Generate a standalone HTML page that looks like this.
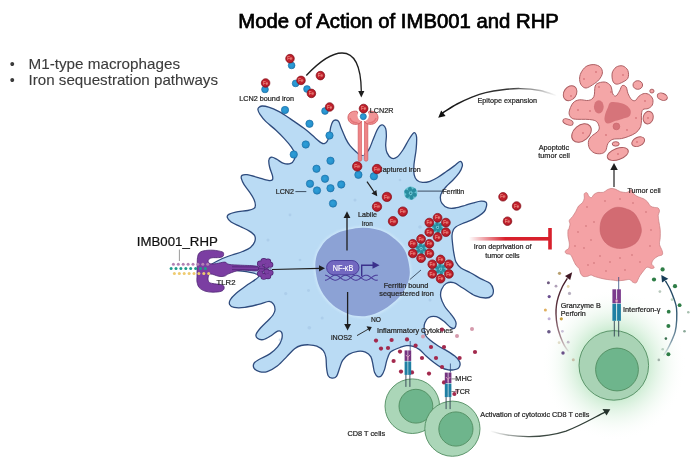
<!DOCTYPE html>
<html><head><meta charset="utf-8"><style>
html,body{margin:0;padding:0;background:#fff;}
svg{display:block;font-family:"Liberation Sans", sans-serif;will-change:transform;}
</style></head><body>
<svg width="700" height="460" viewBox="0 0 700 460">
<rect width="700" height="460" fill="#fff"/>
<defs>
<radialGradient id="feg" cx="0.45" cy="0.45" r="0.6"><stop offset="0" stop-color="#cf2833"/><stop offset="0.7" stop-color="#ba1d29"/><stop offset="1" stop-color="#96131d"/></radialGradient>
<radialGradient id="lcg" cx="0.45" cy="0.45" r="0.6"><stop offset="0" stop-color="#2f9fd8"/><stop offset="0.75" stop-color="#2590cc"/><stop offset="1" stop-color="#1b74ad"/></radialGradient>
<radialGradient id="glow" cx="0.5" cy="0.5" r="0.5"><stop offset="0" stop-color="#8fd39e" stop-opacity="0.9"/><stop offset="0.45" stop-color="#b4e3bd" stop-opacity="0.7"/><stop offset="1" stop-color="#ffffff" stop-opacity="0"/></radialGradient>
<linearGradient id="redline" x1="0" x2="1" y1="0" y2="0"><stop offset="0" stop-color="#d8202c" stop-opacity="0"/><stop offset="0.45" stop-color="#d8202c" stop-opacity="1"/><stop offset="1" stop-color="#d8202c"/></linearGradient>
<linearGradient id="actg" gradientUnits="userSpaceOnUse" x1="490" y1="0" x2="610" y2="0"><stop offset="0" stop-color="#2d3a33" stop-opacity="0"/><stop offset="0.35" stop-color="#2d3a33" stop-opacity="0.9"/><stop offset="1" stop-color="#24332b"/></linearGradient>
<linearGradient id="epig" gradientUnits="userSpaceOnUse" x1="557" y1="0" x2="440" y2="0"><stop offset="0" stop-color="#222" stop-opacity="0"/><stop offset="0.4" stop-color="#222" stop-opacity="0.9"/><stop offset="1" stop-color="#111"/></linearGradient>
<linearGradient id="granz" gradientUnits="userSpaceOnUse" x1="0" y1="353" x2="0" y2="273"><stop offset="0" stop-color="#6a2a3a" stop-opacity="0.05"/><stop offset="0.2" stop-color="#5a2434" stop-opacity="0.55"/><stop offset="0.5" stop-color="#4d1f2c" stop-opacity="0.9"/><stop offset="1" stop-color="#3f1622"/></linearGradient>
<linearGradient id="ifng" gradientUnits="userSpaceOnUse" x1="0" y1="357" x2="0" y2="275"><stop offset="0" stop-color="#2a5a70" stop-opacity="0.05"/><stop offset="0.2" stop-color="#24506a" stop-opacity="0.6"/><stop offset="0.5" stop-color="#1f4a66" stop-opacity="0.9"/><stop offset="1" stop-color="#173c58"/></linearGradient>
</defs>
<ellipse cx="613.8" cy="365" rx="72" ry="76" fill="url(#glow)"/>
<text x="238.3" y="28" font-size="20.3" fill="#000" text-anchor="start" textLength="320.6" lengthAdjust="spacingAndGlyphs" stroke="#000" stroke-width="0.6" style="filter:drop-shadow(0.5px 0.8px 0.6px rgba(0,0,0,0.35))">Mode of Action of IMB001 and RHP</text>
<text x="9.7" y="68.7" font-size="14.3" fill="#3b3b3b" text-anchor="start" >•</text>
<text x="9.7" y="84.8" font-size="14.3" fill="#3b3b3b" text-anchor="start" >•</text>
<text x="28.5" y="68.7" font-size="14.3" fill="#3b3b3b" text-anchor="start" textLength="151.5" lengthAdjust="spacingAndGlyphs" stroke="#3b3b3b" stroke-width="0.1">M1-type macrophages</text>
<text x="28.5" y="84.8" font-size="14.3" fill="#3b3b3b" text-anchor="start" textLength="189.5" lengthAdjust="spacingAndGlyphs" stroke="#3b3b3b" stroke-width="0.1">Iron sequestration pathways</text>
<path d="M258.6 107.6 C259.3 106.9 260.3 106.1 262.0 106.0 C263.7 105.9 265.8 106.2 268.6 107.1 C271.4 108.0 275.0 109.5 278.6 111.4 C282.2 113.3 285.7 115.7 290.0 118.6 C294.3 121.5 300.2 125.5 304.3 128.6 C308.4 131.7 311.5 134.7 314.3 137.1 C317.1 139.5 319.7 141.8 321.4 142.9 C323.1 144.0 323.4 143.8 324.3 143.6 C325.2 143.3 326.3 142.7 327.1 141.4 C327.9 140.1 328.7 138.1 329.3 135.7 C329.9 133.3 330.1 129.5 330.7 127.1 C331.3 124.7 332.1 122.6 332.9 121.4 C333.7 120.2 334.8 120.0 335.7 120.0 C336.6 120.0 337.7 120.0 338.6 121.4 C339.6 122.8 340.2 125.7 341.4 128.6 C342.6 131.5 344.3 135.8 345.7 138.6 C347.1 141.4 348.3 143.6 350.0 145.7 C351.7 147.8 353.8 149.8 355.7 151.4 C357.6 153.0 359.2 155.6 361.4 155.4 C363.5 155.2 366.7 152.6 368.6 150.0 C370.5 147.4 371.5 143.3 372.9 140.0 C374.3 136.7 375.9 132.4 377.1 130.0 C378.3 127.6 379.0 126.5 380.0 125.7 C381.0 124.9 381.9 124.5 382.9 125.0 C383.8 125.5 385.1 126.8 385.7 128.6 C386.3 130.4 386.4 132.8 386.4 135.7 C386.4 138.5 385.6 142.8 385.7 145.7 C385.8 148.6 386.2 150.8 387.1 152.9 C388.1 155.0 389.7 157.5 391.4 158.2 C393.1 158.9 395.2 158.5 397.1 157.1 C399.0 155.7 401.0 152.8 402.9 150.0 C404.8 147.2 406.9 142.7 408.6 140.0 C410.3 137.3 411.8 134.8 412.9 133.6 C414.0 132.4 414.4 132.3 415.0 132.9 C415.6 133.5 416.4 134.5 416.6 137.1 C416.8 139.7 416.5 145.1 416.2 148.7 C415.9 152.3 415.2 155.6 414.8 158.5 C414.4 161.4 414.0 163.4 413.9 166.1 C413.8 168.8 413.7 172.5 414.2 174.8 C414.7 177.2 415.6 178.9 417.0 180.2 C418.4 181.5 420.2 182.2 422.4 182.4 C424.6 182.6 427.5 182.1 430.0 181.3 C432.5 180.5 434.9 179.1 437.6 177.5 C440.3 175.9 443.6 173.4 446.3 171.5 C449.0 169.6 451.7 167.7 453.9 166.1 C456.1 164.5 458.0 162.4 459.3 161.7 C460.6 161.0 461.0 161.4 461.5 162.1 C462.0 162.8 462.7 164.3 462.3 166.1 C461.9 167.8 460.9 170.2 459.3 172.6 C457.7 174.9 455.0 177.9 452.8 180.2 C450.6 182.5 448.1 184.5 446.3 186.5 C444.5 188.5 443.0 190.2 442.0 192.0 C441.0 193.8 440.3 195.5 440.3 197.4 C440.3 199.3 440.8 201.7 442.0 203.4 C443.2 205.1 445.2 206.9 447.4 207.7 C449.6 208.5 452.1 208.4 455.0 208.0 C457.9 207.6 461.7 206.4 464.8 205.5 C467.9 204.6 470.8 203.5 473.5 202.8 C476.2 202.1 479.0 201.3 481.1 201.2 C483.2 201.1 485.1 201.5 486.0 202.3 C486.9 203.1 486.8 204.6 486.5 206.1 C486.2 207.6 485.6 209.9 484.3 211.5 C483.0 213.1 481.1 214.5 478.9 215.9 C476.7 217.3 474.0 218.9 471.3 220.2 C468.6 221.5 465.1 222.4 462.6 223.5 C460.1 224.6 457.6 225.7 456.1 226.7 C454.6 227.7 454.2 228.1 453.5 229.6 C452.8 231.1 452.1 233.2 452.0 235.7 C451.9 238.2 452.4 241.8 452.7 244.8 C453.0 247.9 453.4 251.1 454.0 254.0 C454.6 256.9 454.8 259.7 456.0 262.0 C457.2 264.3 458.6 266.2 461.0 268.0 C463.4 269.8 467.0 271.0 470.4 272.8 C473.8 274.6 477.8 277.1 481.1 278.9 C484.4 280.7 488.2 281.7 490.2 283.5 C492.2 285.3 493.0 287.6 493.3 289.6 C493.6 291.6 493.1 294.3 491.8 295.7 C490.5 297.1 488.5 298.0 485.7 298.0 C482.9 298.0 478.8 297.4 475.0 295.7 C471.2 294.0 466.4 290.2 462.8 288.0 C459.2 285.8 456.5 283.4 453.7 282.7 C450.9 281.9 448.1 282.4 446.1 283.5 C444.1 284.6 442.4 287.3 441.5 289.6 C440.6 291.9 440.3 294.4 440.8 297.2 C441.3 300.0 443.0 303.5 444.6 306.3 C446.2 309.1 449.0 311.6 450.7 313.9 C452.4 316.2 454.1 318.3 455.0 320.0 C455.9 321.7 456.2 322.6 456.1 324.0 C456.0 325.4 455.4 327.6 454.5 328.2 C453.6 328.8 452.3 328.5 450.5 327.4 C448.7 326.2 446.3 323.1 443.9 321.3 C441.5 319.5 438.8 317.3 436.3 316.7 C433.8 316.1 430.6 316.5 428.7 317.5 C426.8 318.5 425.7 320.9 424.9 322.8 C424.1 324.7 424.0 326.8 424.1 328.9 C424.2 331.0 424.7 333.6 425.7 335.5 C426.7 337.4 428.0 338.3 430.0 340.0 C432.0 341.7 435.1 343.9 437.9 345.7 C440.7 347.5 444.2 349.2 447.0 350.9 C449.8 352.6 452.7 354.4 454.8 356.1 C456.9 357.8 458.5 359.8 459.4 361.3 C460.3 362.8 460.2 364.0 460.0 365.2 C459.8 366.4 459.2 367.7 458.1 368.5 C457.0 369.3 455.1 369.6 453.5 369.8 C451.9 370.0 450.2 370.1 448.3 369.8 C446.4 369.5 444.2 369.1 441.8 367.9 C439.4 366.7 436.5 364.6 433.9 362.6 C431.3 360.6 428.5 358.3 426.1 356.1 C423.7 353.9 421.8 351.2 419.6 349.6 C417.4 348.0 415.3 347.0 413.1 346.3 C410.9 345.6 408.7 345.5 406.5 345.7 C404.3 345.9 402.0 346.8 400.0 347.5 C398.0 348.2 396.1 348.9 394.4 349.8 C392.7 350.7 391.1 351.0 389.8 352.8 C388.5 354.6 387.7 357.6 386.8 360.4 C385.9 363.2 385.4 367.1 384.5 369.6 C383.6 372.2 382.5 374.5 381.4 375.7 C380.2 376.9 378.7 377.1 377.6 376.6 C376.5 376.1 375.4 374.5 374.6 372.6 C373.8 370.7 373.6 367.7 373.0 365.0 C372.4 362.3 372.1 358.8 370.8 356.6 C369.5 354.5 367.6 353.0 365.4 352.1 C363.2 351.2 360.6 350.9 357.8 351.3 C355.0 351.7 351.2 352.9 348.7 354.4 C346.2 355.9 344.1 358.1 342.6 360.4 C341.1 362.7 340.6 365.4 339.6 368.1 C338.6 370.8 337.8 374.7 336.5 376.4 C335.2 378.1 333.4 378.3 332.0 378.2 C330.6 378.1 329.1 377.4 328.2 375.7 C327.3 374.0 327.0 371.2 326.6 368.1 C326.2 365.1 326.4 360.3 325.9 357.4 C325.3 354.5 324.8 352.6 323.3 350.7 C321.8 348.8 319.2 347.1 316.8 346.1 C314.4 345.1 311.6 344.9 309.0 344.8 C306.4 344.7 303.5 344.9 301.1 345.5 C298.7 346.1 297.0 346.8 294.6 348.7 C292.2 350.6 289.6 353.8 286.8 356.6 C284.0 359.4 280.9 363.2 277.6 365.7 C274.3 368.2 270.2 370.6 267.2 371.6 C264.2 372.6 261.6 372.2 259.4 371.6 C257.2 371.1 255.0 369.7 254.1 368.3 C253.2 366.9 253.2 364.6 254.1 363.1 C255.0 361.6 256.8 360.7 259.4 359.2 C262.0 357.7 266.8 356.0 269.8 353.9 C272.8 351.8 275.6 349.2 277.6 346.8 C279.6 344.4 280.9 342.0 281.6 339.6 C282.3 337.2 282.3 333.8 281.6 332.4 C280.9 331.0 279.4 330.6 277.6 331.1 C275.9 331.7 273.5 334.3 271.1 335.7 C268.7 337.1 265.6 339.2 263.3 339.6 C261.0 340.0 258.6 339.2 257.4 338.3 C256.2 337.4 255.6 336.1 256.1 334.4 C256.7 332.6 258.6 330.2 260.7 327.8 C262.8 325.4 266.4 322.1 268.5 320.0 C270.6 317.9 271.9 316.7 273.0 315.0 C274.1 313.3 274.9 311.8 275.0 310.0 C275.1 308.2 274.7 305.8 273.7 304.4 C272.7 302.9 271.6 301.3 269.1 301.3 C266.6 301.3 262.6 303.4 258.5 304.4 C254.4 305.4 248.9 306.9 244.8 307.4 C240.7 307.9 236.6 307.9 234.1 307.4 C231.6 306.9 230.2 305.7 229.6 304.4 C229.0 303.1 229.3 301.6 230.3 299.8 C231.3 298.0 232.8 296.2 235.7 293.7 C238.6 291.2 243.9 287.6 247.8 284.6 C251.7 281.7 258.8 278.1 259.0 276.0 C259.2 273.9 252.8 273.1 249.0 272.2 C245.2 271.3 241.8 271.3 236.0 270.4 C230.2 269.5 218.1 268.0 214.0 267.0 C209.9 266.0 210.4 265.8 211.5 264.5 C212.6 263.2 217.0 261.1 220.4 259.5 C223.8 257.9 228.3 256.3 232.0 255.0 C235.7 253.7 239.4 252.8 242.5 251.5 C245.6 250.2 248.5 249.1 250.5 247.5 C252.5 245.9 254.0 243.8 254.7 241.8 C255.4 239.8 255.6 237.5 254.7 235.7 C253.8 233.9 251.8 232.6 249.4 231.1 C247.0 229.6 243.2 228.0 240.2 226.5 C237.1 225.0 233.2 223.5 231.1 222.0 C228.9 220.5 227.7 218.7 227.3 217.4 C226.9 216.1 227.4 215.3 228.8 214.4 C230.2 213.5 232.5 212.8 235.7 212.1 C238.9 211.4 244.8 211.1 247.8 210.5 C250.8 209.9 252.6 209.4 253.9 208.5 C255.2 207.6 255.4 206.7 255.4 205.2 C255.4 203.7 254.9 201.6 254.0 199.5 C253.1 197.4 251.5 194.9 249.8 192.4 C248.2 189.9 245.5 186.9 244.1 184.6 C242.7 182.2 241.7 179.8 241.3 178.3 C241.0 176.8 241.1 176.0 242.0 175.4 C242.9 174.8 244.3 174.3 247.0 174.7 C249.7 175.1 254.8 176.6 258.3 177.6 C261.8 178.6 265.9 180.1 268.2 180.4 C270.5 180.8 271.7 180.5 272.4 179.7 C273.1 178.9 272.9 177.5 272.4 175.4 C271.9 173.3 270.2 169.6 269.6 167.0 C269.0 164.4 268.5 161.6 268.9 159.9 C269.2 158.2 270.4 157.2 271.7 157.1 C273.0 157.0 274.6 158.1 276.6 159.2 C278.6 160.2 281.3 162.7 283.7 163.4 C286.1 164.1 289.0 164.1 290.8 163.4 C292.6 162.8 293.6 161.0 294.3 159.5 C295.0 158.0 295.7 156.4 295.2 154.3 C294.7 152.2 293.2 149.7 291.4 147.1 C289.6 144.5 286.9 141.4 284.3 138.6 C281.7 135.8 278.8 132.9 275.7 130.0 C272.6 127.1 268.3 124.0 265.7 121.4 C263.1 118.8 261.3 116.2 260.0 114.3 C258.7 112.4 258.2 111.1 258.0 110.0 C257.8 108.9 257.9 108.3 258.6 107.6Z" fill="#badbf4" stroke="#2e4b7d" stroke-width="1.3" stroke-linejoin="round"/>
<circle cx="285.7" cy="293.6" r="1.6" fill="#9dbfe0" opacity="0.45"/>
<circle cx="308.5" cy="290.5" r="1.4" fill="#9dbfe0" opacity="0.45"/>
<circle cx="309.3" cy="327.8" r="1.8" fill="#9dbfe0" opacity="0.45"/>
<circle cx="322.2" cy="318" r="1.5" fill="#9dbfe0" opacity="0.45"/>
<circle cx="268" cy="240" r="1.5" fill="#9dbfe0" opacity="0.45"/>
<circle cx="290" cy="215" r="1.4" fill="#9dbfe0" opacity="0.45"/>
<circle cx="420" cy="227" r="1.8" fill="#9dbfe0" opacity="0.45"/>
<circle cx="355" cy="200" r="1.5" fill="#9dbfe0" opacity="0.45"/>
<circle cx="300" cy="260" r="1.3" fill="#9dbfe0" opacity="0.45"/>
<circle cx="430" cy="300" r="1.5" fill="#9dbfe0" opacity="0.45"/>
<circle cx="270" cy="275" r="1.4" fill="#9dbfe0" opacity="0.45"/>
<circle cx="400" cy="180" r="1.3" fill="#9dbfe0" opacity="0.45"/>
<circle cx="280" cy="340" r="1.4" fill="#9dbfe0" opacity="0.45"/>
<circle cx="440" cy="255" r="1.2" fill="#9dbfe0" opacity="0.45"/>
<path d="M362.2 227.8 C366.4 227.7 370.6 228.2 374.6 229.1 C378.6 230.0 382.8 231.2 386.3 233.0 C389.8 234.8 392.8 237.4 395.4 239.6 C398.0 241.8 400.2 243.9 401.9 246.1 C403.6 248.3 404.8 250.4 405.8 252.6 C406.8 254.8 407.2 256.9 407.8 259.1 C408.4 261.3 408.8 263.4 409.1 265.6 C409.4 267.8 409.8 270.1 409.8 272.2 C409.8 274.3 409.6 276.3 409.1 278.5 C408.6 280.7 407.9 283.1 407.0 285.3 C406.1 287.5 404.9 289.5 403.5 291.6 C402.1 293.7 400.5 295.7 398.5 297.8 C396.5 299.9 394.0 302.1 391.5 304.1 C389.0 306.1 386.4 308.0 383.7 309.6 C380.9 311.2 378.1 312.7 375.0 313.8 C371.9 314.9 368.2 315.9 365.0 316.2 C361.8 316.5 358.2 316.2 355.5 315.8 C352.8 315.4 351.4 315.1 348.5 313.9 C345.6 312.7 341.3 310.7 338.1 308.7 C334.9 306.7 331.8 304.1 329.4 301.7 C327.0 299.3 325.1 296.9 323.5 294.5 C321.9 292.1 320.6 289.4 319.5 287.0 C318.4 284.6 317.8 282.4 317.2 280.0 C316.6 277.6 316.2 274.9 315.9 272.5 C315.6 270.1 315.3 267.5 315.3 265.3 C315.3 263.1 315.5 261.2 315.9 259.1 C316.3 257.0 316.8 254.8 317.8 252.6 C318.8 250.4 320.2 248.3 321.7 246.1 C323.2 243.9 324.4 241.8 327.0 239.6 C329.6 237.4 333.7 234.7 337.4 233.0 C341.1 231.3 345.0 230.5 349.1 229.6 C353.2 228.7 357.9 227.9 362.2 227.8Z" fill="none" stroke="#d2eafb" stroke-width="3" opacity="0.8" style="filter:blur(1px)"/>
<path d="M362.2 227.8 C366.4 227.7 370.6 228.2 374.6 229.1 C378.6 230.0 382.8 231.2 386.3 233.0 C389.8 234.8 392.8 237.4 395.4 239.6 C398.0 241.8 400.2 243.9 401.9 246.1 C403.6 248.3 404.8 250.4 405.8 252.6 C406.8 254.8 407.2 256.9 407.8 259.1 C408.4 261.3 408.8 263.4 409.1 265.6 C409.4 267.8 409.8 270.1 409.8 272.2 C409.8 274.3 409.6 276.3 409.1 278.5 C408.6 280.7 407.9 283.1 407.0 285.3 C406.1 287.5 404.9 289.5 403.5 291.6 C402.1 293.7 400.5 295.7 398.5 297.8 C396.5 299.9 394.0 302.1 391.5 304.1 C389.0 306.1 386.4 308.0 383.7 309.6 C380.9 311.2 378.1 312.7 375.0 313.8 C371.9 314.9 368.2 315.9 365.0 316.2 C361.8 316.5 358.2 316.2 355.5 315.8 C352.8 315.4 351.4 315.1 348.5 313.9 C345.6 312.7 341.3 310.7 338.1 308.7 C334.9 306.7 331.8 304.1 329.4 301.7 C327.0 299.3 325.1 296.9 323.5 294.5 C321.9 292.1 320.6 289.4 319.5 287.0 C318.4 284.6 317.8 282.4 317.2 280.0 C316.6 277.6 316.2 274.9 315.9 272.5 C315.6 270.1 315.3 267.5 315.3 265.3 C315.3 263.1 315.5 261.2 315.9 259.1 C316.3 257.0 316.8 254.8 317.8 252.6 C318.8 250.4 320.2 248.3 321.7 246.1 C323.2 243.9 324.4 241.8 327.0 239.6 C329.6 237.4 333.7 234.7 337.4 233.0 C341.1 231.3 345.0 230.5 349.1 229.6 C353.2 228.7 357.9 227.9 362.2 227.8Z" fill="#8ca2d5"/>
<path d="M306.3 75.5 C318 63 330 53 342 53 C355 53 361 68 361.3 91" fill="none" stroke="#1e1e1e" stroke-width="1.3"/>
<path d="M358.2 91 L364.4 91 L361.3 97.6 Z" fill="#1e1e1e"/>
<rect x="358.2" y="119" width="3.5" height="42.2" rx="1.7" fill="#ee8486" stroke="#d35a5e" stroke-width="0.7"/>
<rect x="364.3" y="119" width="3.5" height="42.2" rx="1.7" fill="#ee8486" stroke="#d35a5e" stroke-width="0.7"/>
<path d="M357 111.3 C352.5 110.6 348.3 112.6 348 117.2 C347.8 121.6 351.5 124.6 356 124.3 C359 124.1 361 122.8 362 121 Z" fill="#f19496" stroke="#d0585c" stroke-width="0.9"/>
<path d="M369 111.3 C373.5 110.6 377.7 112.6 378 117.2 C378.2 121.6 374.5 124.6 370 124.3 C367 124.1 365 122.8 364 121 Z" fill="#f19496" stroke="#d0585c" stroke-width="0.9"/>
<path d="M350 118 C351 121.5 354 123 357.5 122.5" stroke="#e47478" stroke-width="1.4" fill="none"/>
<path d="M376 118 C375 121.5 372 123 368.5 122.5" stroke="#e47478" stroke-width="1.4" fill="none"/>
<circle cx="363.2" cy="115.6" r="5.7" fill="#fff"/>
<rect x="362.1" y="119" width="1.8" height="36" fill="#fff"/>
<circle cx="363.3" cy="116.6" r="3.1" fill="url(#lcg)" stroke="#1a6da5" stroke-width="0.6"/>
<circle cx="363.6" cy="108.6" r="4.4" fill="url(#feg)" stroke="#86111b" stroke-width="0.7"/><text x="363.6" y="110.26" font-size="4.62" fill="#f2a898" text-anchor="middle">Fe</text>
<text x="369.8" y="113.4" font-size="7.4" fill="#262626" text-anchor="start" textLength="23.6" lengthAdjust="spacingAndGlyphs" stroke="#262626" stroke-width="0.22">LCN2R</text>
<circle cx="291.6" cy="65.4" r="3.4" fill="url(#lcg)" stroke="#1a6da5" stroke-width="0.6"/>
<circle cx="290" cy="58.6" r="4.3" fill="url(#feg)" stroke="#86111b" stroke-width="0.7"/><text x="290" y="60.22" font-size="4.51" fill="#f2a898" text-anchor="middle">Fe</text>
<circle cx="265" cy="89.4" r="3.4" fill="url(#lcg)" stroke="#1a6da5" stroke-width="0.6"/>
<circle cx="265.6" cy="83" r="4.3" fill="url(#feg)" stroke="#86111b" stroke-width="0.7"/><text x="265.6" y="84.62" font-size="4.51" fill="#f2a898" text-anchor="middle">Fe</text>
<circle cx="295.6" cy="83.4" r="3.4" fill="url(#lcg)" stroke="#1a6da5" stroke-width="0.6"/>
<circle cx="301" cy="80.4" r="4.3" fill="url(#feg)" stroke="#86111b" stroke-width="0.7"/><text x="301" y="82.02" font-size="4.51" fill="#f2a898" text-anchor="middle">Fe</text>
<circle cx="307" cy="89" r="3.4" fill="url(#lcg)" stroke="#1a6da5" stroke-width="0.6"/>
<circle cx="311.4" cy="93.4" r="4.3" fill="url(#feg)" stroke="#86111b" stroke-width="0.7"/><text x="311.4" y="95.02" font-size="4.51" fill="#f2a898" text-anchor="middle">Fe</text>
<circle cx="325" cy="111" r="3.4" fill="url(#lcg)" stroke="#1a6da5" stroke-width="0.6"/>
<circle cx="329.6" cy="107" r="4.3" fill="url(#feg)" stroke="#86111b" stroke-width="0.7"/><text x="329.6" y="108.62" font-size="4.51" fill="#f2a898" text-anchor="middle">Fe</text>
<circle cx="320.4" cy="75.6" r="4.3" fill="url(#feg)" stroke="#86111b" stroke-width="0.7"/><text x="320.4" y="77.22" font-size="4.51" fill="#f2a898" text-anchor="middle">Fe</text>
<text x="239.3" y="100.5" font-size="7.2" fill="#262626" text-anchor="start" textLength="54.7" lengthAdjust="spacingAndGlyphs" stroke="#262626" stroke-width="0.22">LCN2 bound iron</text>
<circle cx="285" cy="110" r="3.7" fill="url(#lcg)" stroke="#1a6da5" stroke-width="0.6"/>
<circle cx="309.5" cy="123.75" r="3.7" fill="url(#lcg)" stroke="#1a6da5" stroke-width="0.6"/>
<circle cx="329.5" cy="135.5" r="3.7" fill="url(#lcg)" stroke="#1a6da5" stroke-width="0.6"/>
<circle cx="305.75" cy="144.5" r="3.7" fill="url(#lcg)" stroke="#1a6da5" stroke-width="0.6"/>
<circle cx="293.75" cy="154.5" r="3.7" fill="url(#lcg)" stroke="#1a6da5" stroke-width="0.6"/>
<circle cx="330.5" cy="160.75" r="3.7" fill="url(#lcg)" stroke="#1a6da5" stroke-width="0.6"/>
<circle cx="316.5" cy="168.75" r="3.7" fill="url(#lcg)" stroke="#1a6da5" stroke-width="0.6"/>
<circle cx="325" cy="178.75" r="3.7" fill="url(#lcg)" stroke="#1a6da5" stroke-width="0.6"/>
<circle cx="310" cy="183.75" r="3.7" fill="url(#lcg)" stroke="#1a6da5" stroke-width="0.6"/>
<circle cx="317" cy="190.5" r="3.7" fill="url(#lcg)" stroke="#1a6da5" stroke-width="0.6"/>
<circle cx="330.5" cy="188.25" r="3.7" fill="url(#lcg)" stroke="#1a6da5" stroke-width="0.6"/>
<circle cx="341.25" cy="184.5" r="3.7" fill="url(#lcg)" stroke="#1a6da5" stroke-width="0.6"/>
<circle cx="333" cy="203.5" r="3.7" fill="url(#lcg)" stroke="#1a6da5" stroke-width="0.6"/>
<text x="275.7" y="194.3" font-size="7.2" fill="#262626" text-anchor="start" textLength="18.2" lengthAdjust="spacingAndGlyphs" stroke="#262626" stroke-width="0.22">LCN2</text>
<line x1="295.4" y1="191.6" x2="306.3" y2="191.6" stroke="#263548" stroke-width="0.85"/>
<text x="377.5" y="172.1" font-size="7.2" fill="#262626" text-anchor="start" textLength="43.1" lengthAdjust="spacingAndGlyphs" stroke="#262626" stroke-width="0.22">Captured iron</text>
<circle cx="358.4" cy="174.8" r="3.7" fill="url(#lcg)" stroke="#1a6da5" stroke-width="0.6"/>
<circle cx="357.2" cy="166.4" r="4.7" fill="url(#feg)" stroke="#86111b" stroke-width="0.7"/><text x="357.2" y="168.18" font-size="4.94" fill="#f2a898" text-anchor="middle">Fe</text>
<circle cx="373.9" cy="176.3" r="3.7" fill="url(#lcg)" stroke="#1a6da5" stroke-width="0.6"/>
<circle cx="377" cy="169" r="4.7" fill="url(#feg)" stroke="#86111b" stroke-width="0.7"/><text x="377" y="170.78" font-size="4.94" fill="#f2a898" text-anchor="middle">Fe</text>
<line x1="367" y1="181.6" x2="374.5" y2="192.5" stroke="#1e1e1e" stroke-width="1.2"/>
<path d="M371.5 193.5 L377.2 196.3 L376.4 190 Z" fill="#1e1e1e"/>
<circle cx="386.9" cy="196.9" r="4.7" fill="url(#feg)" stroke="#86111b" stroke-width="0.7"/><text x="386.9" y="198.68" font-size="4.94" fill="#f2a898" text-anchor="middle">Fe</text>
<circle cx="377" cy="206.7" r="4.7" fill="url(#feg)" stroke="#86111b" stroke-width="0.7"/><text x="377" y="208.48" font-size="4.94" fill="#f2a898" text-anchor="middle">Fe</text>
<circle cx="402.8" cy="211.6" r="4.7" fill="url(#feg)" stroke="#86111b" stroke-width="0.7"/><text x="402.8" y="213.38" font-size="4.94" fill="#f2a898" text-anchor="middle">Fe</text>
<circle cx="393" cy="221.2" r="4.7" fill="url(#feg)" stroke="#86111b" stroke-width="0.7"/><text x="393" y="222.98" font-size="4.94" fill="#f2a898" text-anchor="middle">Fe</text>
<g transform="translate(410.7 193.2) scale(1.0)"><circle r="6.6" fill="#5fbfcd" opacity="0.9"/><ellipse cx="-0.68" cy="-3.84" rx="2.5" ry="2.0" transform="rotate(-100 -0.68 -3.84)" fill="#2a8d9f"/><ellipse cx="3.22" cy="-2.70" rx="2.5" ry="2.0" transform="rotate(-40 3.22 -2.70)" fill="#2a8d9f"/><ellipse cx="3.66" cy="1.33" rx="2.5" ry="2.0" transform="rotate(20 3.66 1.33)" fill="#2a8d9f"/><ellipse cx="0.73" cy="4.14" rx="2.5" ry="2.0" transform="rotate(80 0.73 4.14)" fill="#2a8d9f"/><ellipse cx="-2.99" cy="2.51" rx="2.5" ry="2.0" transform="rotate(140 -2.99 2.51)" fill="#2a8d9f"/><ellipse cx="-3.95" cy="-1.44" rx="2.5" ry="2.0" transform="rotate(200 -3.95 -1.44)" fill="#2a8d9f"/><circle r="1.6" fill="#6cc6d3"/><circle r="0.8" fill="#226f80"/></g>
<line x1="417.5" y1="191.1" x2="443" y2="191.1" stroke="#263548" stroke-width="0.85"/>
<text x="442.3" y="193.9" font-size="7.2" fill="#262626" text-anchor="start" textLength="22" lengthAdjust="spacingAndGlyphs" stroke="#262626" stroke-width="0.22">Ferritin</text>
<g transform="translate(437.6 227.4) scale(0.85)"><circle r="6.6" fill="#5fbfcd" opacity="0.9"/><ellipse cx="-0.68" cy="-3.84" rx="2.5" ry="2.0" transform="rotate(-100 -0.68 -3.84)" fill="#2a8d9f"/><ellipse cx="3.22" cy="-2.70" rx="2.5" ry="2.0" transform="rotate(-40 3.22 -2.70)" fill="#2a8d9f"/><ellipse cx="3.66" cy="1.33" rx="2.5" ry="2.0" transform="rotate(20 3.66 1.33)" fill="#2a8d9f"/><ellipse cx="0.73" cy="4.14" rx="2.5" ry="2.0" transform="rotate(80 0.73 4.14)" fill="#2a8d9f"/><ellipse cx="-2.99" cy="2.51" rx="2.5" ry="2.0" transform="rotate(140 -2.99 2.51)" fill="#2a8d9f"/><ellipse cx="-3.95" cy="-1.44" rx="2.5" ry="2.0" transform="rotate(200 -3.95 -1.44)" fill="#2a8d9f"/><circle r="1.6" fill="#6cc6d3"/><circle r="0.8" fill="#226f80"/></g><circle cx="437.6" cy="217.8" r="4.4" fill="url(#feg)" stroke="#86111b" stroke-width="0.7"/><text x="437.6" y="219.46" font-size="4.62" fill="#f2a898" text-anchor="middle">Fe</text><circle cx="445.9" cy="222.6" r="4.4" fill="url(#feg)" stroke="#86111b" stroke-width="0.7"/><text x="445.9" y="224.26" font-size="4.62" fill="#f2a898" text-anchor="middle">Fe</text><circle cx="445.9" cy="232.2" r="4.4" fill="url(#feg)" stroke="#86111b" stroke-width="0.7"/><text x="445.9" y="233.86" font-size="4.62" fill="#f2a898" text-anchor="middle">Fe</text><circle cx="437.6" cy="237.0" r="4.4" fill="url(#feg)" stroke="#86111b" stroke-width="0.7"/><text x="437.6" y="238.66" font-size="4.62" fill="#f2a898" text-anchor="middle">Fe</text><circle cx="429.3" cy="232.2" r="4.4" fill="url(#feg)" stroke="#86111b" stroke-width="0.7"/><text x="429.3" y="233.86" font-size="4.62" fill="#f2a898" text-anchor="middle">Fe</text><circle cx="429.3" cy="222.6" r="4.4" fill="url(#feg)" stroke="#86111b" stroke-width="0.7"/><text x="429.3" y="224.26" font-size="4.62" fill="#f2a898" text-anchor="middle">Fe</text>
<g transform="translate(421.1 248.6) scale(0.85)"><circle r="6.6" fill="#5fbfcd" opacity="0.9"/><ellipse cx="-0.68" cy="-3.84" rx="2.5" ry="2.0" transform="rotate(-100 -0.68 -3.84)" fill="#2a8d9f"/><ellipse cx="3.22" cy="-2.70" rx="2.5" ry="2.0" transform="rotate(-40 3.22 -2.70)" fill="#2a8d9f"/><ellipse cx="3.66" cy="1.33" rx="2.5" ry="2.0" transform="rotate(20 3.66 1.33)" fill="#2a8d9f"/><ellipse cx="0.73" cy="4.14" rx="2.5" ry="2.0" transform="rotate(80 0.73 4.14)" fill="#2a8d9f"/><ellipse cx="-2.99" cy="2.51" rx="2.5" ry="2.0" transform="rotate(140 -2.99 2.51)" fill="#2a8d9f"/><ellipse cx="-3.95" cy="-1.44" rx="2.5" ry="2.0" transform="rotate(200 -3.95 -1.44)" fill="#2a8d9f"/><circle r="1.6" fill="#6cc6d3"/><circle r="0.8" fill="#226f80"/></g><circle cx="421.1" cy="239.0" r="4.4" fill="url(#feg)" stroke="#86111b" stroke-width="0.7"/><text x="421.1" y="240.66" font-size="4.62" fill="#f2a898" text-anchor="middle">Fe</text><circle cx="429.4" cy="243.8" r="4.4" fill="url(#feg)" stroke="#86111b" stroke-width="0.7"/><text x="429.4" y="245.46" font-size="4.62" fill="#f2a898" text-anchor="middle">Fe</text><circle cx="429.4" cy="253.4" r="4.4" fill="url(#feg)" stroke="#86111b" stroke-width="0.7"/><text x="429.4" y="255.06" font-size="4.62" fill="#f2a898" text-anchor="middle">Fe</text><circle cx="421.1" cy="258.2" r="4.4" fill="url(#feg)" stroke="#86111b" stroke-width="0.7"/><text x="421.1" y="259.86" font-size="4.62" fill="#f2a898" text-anchor="middle">Fe</text><circle cx="412.8" cy="253.4" r="4.4" fill="url(#feg)" stroke="#86111b" stroke-width="0.7"/><text x="412.8" y="255.06" font-size="4.62" fill="#f2a898" text-anchor="middle">Fe</text><circle cx="412.8" cy="243.8" r="4.4" fill="url(#feg)" stroke="#86111b" stroke-width="0.7"/><text x="412.8" y="245.46" font-size="4.62" fill="#f2a898" text-anchor="middle">Fe</text>
<g transform="translate(440.6 269.1) scale(0.85)"><circle r="6.6" fill="#5fbfcd" opacity="0.9"/><ellipse cx="-0.68" cy="-3.84" rx="2.5" ry="2.0" transform="rotate(-100 -0.68 -3.84)" fill="#2a8d9f"/><ellipse cx="3.22" cy="-2.70" rx="2.5" ry="2.0" transform="rotate(-40 3.22 -2.70)" fill="#2a8d9f"/><ellipse cx="3.66" cy="1.33" rx="2.5" ry="2.0" transform="rotate(20 3.66 1.33)" fill="#2a8d9f"/><ellipse cx="0.73" cy="4.14" rx="2.5" ry="2.0" transform="rotate(80 0.73 4.14)" fill="#2a8d9f"/><ellipse cx="-2.99" cy="2.51" rx="2.5" ry="2.0" transform="rotate(140 -2.99 2.51)" fill="#2a8d9f"/><ellipse cx="-3.95" cy="-1.44" rx="2.5" ry="2.0" transform="rotate(200 -3.95 -1.44)" fill="#2a8d9f"/><circle r="1.6" fill="#6cc6d3"/><circle r="0.8" fill="#226f80"/></g><circle cx="440.6" cy="259.5" r="4.4" fill="url(#feg)" stroke="#86111b" stroke-width="0.7"/><text x="440.6" y="261.16" font-size="4.62" fill="#f2a898" text-anchor="middle">Fe</text><circle cx="448.9" cy="264.3" r="4.4" fill="url(#feg)" stroke="#86111b" stroke-width="0.7"/><text x="448.9" y="265.96" font-size="4.62" fill="#f2a898" text-anchor="middle">Fe</text><circle cx="448.9" cy="273.9" r="4.4" fill="url(#feg)" stroke="#86111b" stroke-width="0.7"/><text x="448.9" y="275.56" font-size="4.62" fill="#f2a898" text-anchor="middle">Fe</text><circle cx="440.6" cy="278.7" r="4.4" fill="url(#feg)" stroke="#86111b" stroke-width="0.7"/><text x="440.6" y="280.36" font-size="4.62" fill="#f2a898" text-anchor="middle">Fe</text><circle cx="432.3" cy="273.9" r="4.4" fill="url(#feg)" stroke="#86111b" stroke-width="0.7"/><text x="432.3" y="275.56" font-size="4.62" fill="#f2a898" text-anchor="middle">Fe</text><circle cx="432.3" cy="264.3" r="4.4" fill="url(#feg)" stroke="#86111b" stroke-width="0.7"/><text x="432.3" y="265.96" font-size="4.62" fill="#f2a898" text-anchor="middle">Fe</text>
<line x1="421" y1="270" x2="409.8" y2="279.6" stroke="#263548" stroke-width="0.8"/>
<text x="383.7" y="287.6" font-size="7.2" fill="#262626" text-anchor="start" textLength="44.6" lengthAdjust="spacingAndGlyphs" stroke="#262626" stroke-width="0.22">Ferritin bound</text>
<text x="379.3" y="296.3" font-size="7.2" fill="#262626" text-anchor="start" textLength="54.4" lengthAdjust="spacingAndGlyphs" stroke="#262626" stroke-width="0.22">sequestered iron</text>
<circle cx="503" cy="196.8" r="4.3" fill="url(#feg)" stroke="#86111b" stroke-width="0.7"/><text x="503" y="198.42" font-size="4.51" fill="#f2a898" text-anchor="middle">Fe</text>
<circle cx="516.6" cy="206" r="4.3" fill="url(#feg)" stroke="#86111b" stroke-width="0.7"/><text x="516.6" y="207.62" font-size="4.51" fill="#f2a898" text-anchor="middle">Fe</text>
<circle cx="507.5" cy="221.2" r="4.3" fill="url(#feg)" stroke="#86111b" stroke-width="0.7"/><text x="507.5" y="222.82" font-size="4.51" fill="#f2a898" text-anchor="middle">Fe</text>
<rect x="469" y="237" width="81" height="3.6" fill="url(#redline)"/>
<rect x="548.2" y="228" width="3.6" height="21.5" fill="#d8202c"/>
<text x="473.8" y="249.3" font-size="7.2" fill="#262626" text-anchor="start" textLength="57.7" lengthAdjust="spacingAndGlyphs" stroke="#262626" stroke-width="0.22">Iron deprivation of</text>
<text x="485.2" y="257.6" font-size="7.2" fill="#262626" text-anchor="start" textLength="34.5" lengthAdjust="spacingAndGlyphs" stroke="#262626" stroke-width="0.22">tumor cells</text>
<text x="358" y="217" font-size="7.2" fill="#262626" text-anchor="start" textLength="19" lengthAdjust="spacingAndGlyphs" stroke="#262626" stroke-width="0.22">Labile</text>
<text x="362" y="226" font-size="7.2" fill="#262626" text-anchor="start" textLength="10.8" lengthAdjust="spacingAndGlyphs" stroke="#262626" stroke-width="0.22">iron</text>
<line x1="347" y1="250.5" x2="347" y2="217" stroke="#1e1e1e" stroke-width="1.3"/>
<path d="M343.6 218 L350.4 218 L347 211.2 Z" fill="#1e1e1e"/>
<line x1="347.6" y1="292" x2="347.6" y2="325" stroke="#1e1e1e" stroke-width="1.3"/>
<path d="M344.2 324 L351 324 L347.6 330.5 Z" fill="#1e1e1e"/>
<text x="331" y="340.2" font-size="7.2" fill="#262626" text-anchor="start" textLength="21" lengthAdjust="spacingAndGlyphs" stroke="#262626" stroke-width="0.22">iNOS2</text>
<line x1="357" y1="335.6" x2="368.5" y2="329" stroke="#1e1e1e" stroke-width="0.9"/>
<path d="M366.5 326.3 L371.8 327 L369.4 331.4 Z" fill="#1e1e1e"/>
<text x="371" y="322" font-size="7.2" fill="#262626" text-anchor="start" textLength="10" lengthAdjust="spacingAndGlyphs" stroke="#262626" stroke-width="0.22">NO</text>
<line x1="272" y1="269.5" x2="320" y2="268.4" stroke="#1e1e1e" stroke-width="1.1"/>
<path d="M319 265.3 L325 268.3 L319 271.4 Z" fill="#1e1e1e"/>
<path d="M325.00,275.20 L325.66,275.26 L326.32,275.41 L326.98,275.66 L327.63,275.99 L328.29,276.39 L328.95,276.84 L329.61,277.33 L330.27,277.83 L330.93,278.33 L331.59,278.80 L332.25,279.22 L332.90,279.59 L333.56,279.88 L334.22,280.08 L334.88,280.18 L335.54,280.19 L336.20,280.10 L336.86,279.90 L337.52,279.63 L338.18,279.27 L338.83,278.85 L339.49,278.38 L340.15,277.89 L340.81,277.39 L341.47,276.90 L342.13,276.44 L342.79,276.04 L343.44,275.70 L344.10,275.44 L344.76,275.27 L345.42,275.20 L346.08,275.23 L346.74,275.36 L347.40,275.59 L348.06,275.90 L348.71,276.28 L349.37,276.72 L350.03,277.20 L350.69,277.69 L351.35,278.19 L352.01,278.67 L352.67,279.11 L353.33,279.50 L353.99,279.81 L354.64,280.03 L355.30,280.17 L355.96,280.20 L356.62,280.13 L357.28,279.97 L357.94,279.71 L358.60,279.37 L359.25,278.97 L359.91,278.51 L360.57,278.02 L361.23,277.52 L361.89,277.03 L362.55,276.56 L363.21,276.14 L363.87,275.78 L364.52,275.50 L365.18,275.31 L365.84,275.21 L366.50,275.21 L367.16,275.32 L367.82,275.52 L368.48,275.80 L369.14,276.17 L369.80,276.59 L370.45,277.06 L371.11,277.56 L371.77,278.06 L372.43,278.55 L373.09,279.00 L373.75,279.40 L374.41,279.73 L375.06,279.98 L375.72,280.14 L376.38,280.20 L377.04,280.16 L377.70,280.02" fill="none" stroke="#4b3d9b" stroke-width="1.05"/>
<path d="M325.00,280.20 L325.66,280.14 L326.32,279.99 L326.98,279.74 L327.63,279.41 L328.29,279.01 L328.95,278.56 L329.61,278.07 L330.27,277.57 L330.93,277.07 L331.59,276.60 L332.25,276.18 L332.90,275.81 L333.56,275.52 L334.22,275.32 L334.88,275.22 L335.54,275.21 L336.20,275.30 L336.86,275.50 L337.52,275.77 L338.18,276.13 L338.83,276.55 L339.49,277.02 L340.15,277.51 L340.81,278.01 L341.47,278.50 L342.13,278.96 L342.79,279.36 L343.44,279.70 L344.10,279.96 L344.76,280.13 L345.42,280.20 L346.08,280.17 L346.74,280.04 L347.40,279.81 L348.06,279.50 L348.71,279.12 L349.37,278.68 L350.03,278.20 L350.69,277.71 L351.35,277.21 L352.01,276.73 L352.67,276.29 L353.33,275.90 L353.99,275.59 L354.64,275.37 L355.30,275.23 L355.96,275.20 L356.62,275.27 L357.28,275.43 L357.94,275.69 L358.60,276.03 L359.25,276.43 L359.91,276.89 L360.57,277.38 L361.23,277.88 L361.89,278.37 L362.55,278.84 L363.21,279.26 L363.87,279.62 L364.52,279.90 L365.18,280.09 L365.84,280.19 L366.50,280.19 L367.16,280.08 L367.82,279.88 L368.48,279.60 L369.14,279.23 L369.80,278.81 L370.45,278.34 L371.11,277.84 L371.77,277.34 L372.43,276.85 L373.09,276.40 L373.75,276.00 L374.41,275.67 L375.06,275.42 L375.72,275.26 L376.38,275.20 L377.04,275.24 L377.70,275.38" fill="none" stroke="#4b3d9b" stroke-width="1.05"/>
<rect x="326.6" y="260.5" width="32.4" height="14.3" rx="7.1" fill="#7268c0" stroke="#4a3f9c" stroke-width="1"/>
<text x="343" y="271" font-size="8.3" fill="#fff" text-anchor="middle" textLength="20.5" lengthAdjust="spacingAndGlyphs" stroke="#fff" stroke-width="0.15">NF-κB</text>
<path d="M361.7 276 L361.7 265.2 L374 265.2" fill="none" stroke="#3b318c" stroke-width="1.4"/>
<path d="M372.5 261.6 L379.5 265.2 L372.5 268.8 Z" fill="#3b318c"/>
<line x1="179.4" y1="249.5" x2="179.4" y2="261" stroke="#555" stroke-width="0.6"/>
<text x="136.8" y="246.1" font-size="12.6" fill="#111" text-anchor="start" textLength="81" lengthAdjust="spacingAndGlyphs" stroke="#111" stroke-width="0.2">IMB001_RHP</text>
<path d="M222.3 251.9 C220.5 251.2 216.1 250.4 213.0 250.2 C209.9 250.0 206.1 250.3 203.8 250.8 C201.5 251.3 200.2 251.9 199.2 253.1 C198.1 254.2 197.8 255.7 197.5 257.7 C197.2 259.7 197.3 261.9 197.2 265.0 C197.1 268.1 197.0 273.3 197.0 276.1 C197.0 278.9 196.6 280.0 197.0 281.9 C197.4 283.8 197.9 286.1 199.2 287.6 C200.5 289.1 202.7 290.3 205.0 291.1 C207.3 291.9 210.3 292.2 213.0 292.2 C215.7 292.2 219.3 291.9 221.1 291.3 C222.9 290.7 223.6 289.8 224.0 288.8 C224.4 287.9 224.1 286.3 223.4 285.6 C222.7 284.9 221.7 284.7 220.0 284.4 C218.3 284.1 214.9 284.0 213.0 283.6 C211.1 283.2 209.6 282.9 208.8 281.9 C208.0 280.8 207.9 278.6 208.2 277.3 C208.5 276.0 208.7 274.2 210.5 274.0 C212.3 273.8 216.5 275.9 218.8 276.3 C221.2 276.7 222.9 276.6 224.6 276.1 C226.3 275.7 226.3 274.6 229.0 273.6 C231.7 272.6 236.0 270.7 240.7 270.2 C245.4 269.7 254.3 271.4 257.0 270.8 C259.7 270.2 259.7 267.2 257.0 266.3 C254.3 265.4 245.4 265.5 240.7 265.2 C236.0 264.9 231.7 264.9 229.0 264.4 C226.3 263.9 226.7 262.2 224.6 262.1 C222.5 262.0 218.8 263.3 216.5 263.6 C214.2 263.9 211.9 264.1 210.5 263.8 C209.1 263.5 208.4 262.4 208.2 261.6 C207.9 260.8 208.4 259.8 209.0 259.2 C209.6 258.6 210.4 258.1 212.0 257.8 C213.6 257.5 217.0 257.8 218.8 257.6 C220.6 257.4 222.0 257.1 222.8 256.5 C223.6 255.9 223.7 255.0 223.6 254.2 C223.5 253.4 224.1 252.6 222.3 251.9Z" fill="#7b3ea2" stroke="#4d2372" stroke-width="0.8" stroke-linejoin="round"/>
<path d="M232 266.8 L258 267 M232 269.6 L258 269.9" stroke="#4d2372" stroke-width="0.8" fill="none"/>
<circle cx="260.2" cy="263.8" r="3.2" fill="#4d2372"/>
<circle cx="263.8" cy="261.4" r="3.3" fill="#4d2372"/>
<circle cx="268" cy="261.8" r="3.2" fill="#4d2372"/>
<circle cx="270.3" cy="264.8" r="3.0" fill="#4d2372"/>
<circle cx="266.5" cy="265.6" r="3.0999999999999996" fill="#4d2372"/>
<circle cx="260.2" cy="273.6" r="3.2" fill="#4d2372"/>
<circle cx="263.8" cy="276.4" r="3.3" fill="#4d2372"/>
<circle cx="268" cy="276" r="3.2" fill="#4d2372"/>
<circle cx="270.5" cy="272.8" r="3.0" fill="#4d2372"/>
<circle cx="266.5" cy="271.6" r="3.0999999999999996" fill="#4d2372"/>
<circle cx="261.5" cy="268.7" r="3.3" fill="#4d2372"/>
<circle cx="260.2" cy="263.8" r="2.5" fill="#7b3ea2"/>
<circle cx="263.8" cy="261.4" r="2.6" fill="#7b3ea2"/>
<circle cx="268" cy="261.8" r="2.5" fill="#7b3ea2"/>
<circle cx="270.3" cy="264.8" r="2.3" fill="#7b3ea2"/>
<circle cx="266.5" cy="265.6" r="2.4" fill="#7b3ea2"/>
<circle cx="260.2" cy="273.6" r="2.5" fill="#7b3ea2"/>
<circle cx="263.8" cy="276.4" r="2.6" fill="#7b3ea2"/>
<circle cx="268" cy="276" r="2.5" fill="#7b3ea2"/>
<circle cx="270.5" cy="272.8" r="2.3" fill="#7b3ea2"/>
<circle cx="266.5" cy="271.6" r="2.4" fill="#7b3ea2"/>
<circle cx="261.5" cy="268.7" r="2.6" fill="#7b3ea2"/>
<path d="M259 268.7 C263 269.2 267 268.6 271.5 268.9" stroke="#4d2372" stroke-width="0.7" fill="none"/>
<circle cx="173.4" cy="264.3" r="1.5" fill="#b382b5"/>
<circle cx="178.3" cy="264.3" r="1.5" fill="#b382b5"/>
<circle cx="183.2" cy="264.3" r="1.5" fill="#b382b5"/>
<circle cx="188.1" cy="264.3" r="1.5" fill="#b382b5"/>
<circle cx="193.0" cy="264.3" r="1.5" fill="#b382b5"/>
<circle cx="197.9" cy="264.3" r="1.5" fill="#b382b5"/>
<circle cx="202.8" cy="264.3" r="1.5" fill="#b382b5"/>
<circle cx="207.7" cy="264.3" r="1.5" fill="#b382b5"/>
<circle cx="171.1" cy="268.6" r="1.5" fill="#1f9a8c"/>
<circle cx="176.0" cy="268.6" r="1.5" fill="#1f9a8c"/>
<circle cx="180.9" cy="268.6" r="1.5" fill="#1f9a8c"/>
<circle cx="185.8" cy="268.6" r="1.5" fill="#1f9a8c"/>
<circle cx="190.7" cy="268.6" r="1.5" fill="#1f9a8c"/>
<circle cx="195.6" cy="268.6" r="1.5" fill="#1f9a8c"/>
<circle cx="200.5" cy="268.6" r="1.5" fill="#1f9a8c"/>
<circle cx="205.4" cy="268.6" r="1.5" fill="#1f9a8c"/>
<circle cx="174.4" cy="273.5" r="1.5" fill="#efcb70"/>
<circle cx="179.3" cy="273.5" r="1.5" fill="#efcb70"/>
<circle cx="184.2" cy="273.5" r="1.5" fill="#efcb70"/>
<circle cx="189.1" cy="273.5" r="1.5" fill="#efcb70"/>
<circle cx="194.0" cy="273.5" r="1.5" fill="#efcb70"/>
<circle cx="198.9" cy="273.5" r="1.5" fill="#efcb70"/>
<circle cx="203.8" cy="273.5" r="1.5" fill="#efcb70"/>
<circle cx="208.7" cy="273.5" r="1.5" fill="#efcb70"/>
<text x="216.6" y="285" font-size="7.2" fill="#262626" text-anchor="start" textLength="18.9" lengthAdjust="spacingAndGlyphs" stroke="#262626" stroke-width="0.22">TLR2</text>
<text x="377" y="333.4" font-size="7.2" fill="#262626" text-anchor="start" textLength="76" lengthAdjust="spacingAndGlyphs" stroke="#262626" stroke-width="0.22">Inflammatory Cytokines</text>
<circle cx="376" cy="340.6" r="2.1" fill="#a3294d"/>
<circle cx="391.6" cy="340" r="2.1" fill="#a3294d"/>
<circle cx="381" cy="348.6" r="2.1" fill="#a3294d"/>
<circle cx="388" cy="348" r="2.1" fill="#a3294d"/>
<circle cx="400" cy="351.6" r="2.1" fill="#a3294d"/>
<circle cx="407" cy="339.4" r="2.1" fill="#a3294d"/>
<circle cx="415.6" cy="345.6" r="2.1" fill="#a3294d"/>
<circle cx="393.6" cy="361" r="2.1" fill="#a3294d"/>
<circle cx="422" cy="358" r="2.1" fill="#a3294d"/>
<circle cx="431" cy="347" r="2.1" fill="#a3294d"/>
<circle cx="444" cy="347" r="2.1" fill="#a3294d"/>
<circle cx="436" cy="358" r="2.1" fill="#a3294d"/>
<circle cx="442" cy="367" r="2.1" fill="#a3294d"/>
<circle cx="459.6" cy="358" r="2.1" fill="#a3294d"/>
<circle cx="401" cy="371.6" r="2.1" fill="#a3294d"/>
<circle cx="412" cy="372.4" r="2.1" fill="#a3294d"/>
<circle cx="429" cy="373.6" r="2.1" fill="#a3294d"/>
<circle cx="442" cy="329.6" r="2.1" fill="#a3294d"/>
<circle cx="475" cy="352" r="2.1" fill="#a3294d"/>
<circle cx="444" cy="382.4" r="2.1" fill="#a3294d"/>
<circle cx="454.4" cy="394" r="2.1" fill="#a3294d"/>
<circle cx="472" cy="329" r="2.0" fill="#d59aac"/>
<circle cx="457" cy="336" r="2.0" fill="#d59aac"/>
<circle cx="423" cy="336.4" r="2.0" fill="#d59aac"/>
<circle cx="457" cy="391" r="2.0" fill="#d59aac"/>
<circle cx="412.3" cy="406.2" r="27.3" fill="#abd6b8" stroke="#508c60" stroke-width="0.9"/>
<circle cx="415.9" cy="406.2" r="16.9" fill="#6eb58c" stroke="#508c60" stroke-width="0.9"/>
<circle cx="452.4" cy="428.7" r="27.6" fill="#abd6b8" stroke="#508c60" stroke-width="0.9"/>
<circle cx="455.9" cy="429" r="17.1" fill="#6eb58c" stroke="#508c60" stroke-width="0.9"/>
<line x1="410.20000000000005" y1="341" x2="410.20000000000005" y2="350.4" stroke="#2e4b7d" stroke-width="0.8"/><rect x="404.6" y="350.4" width="3" height="10.5" fill="#74337f"/><rect x="408.20000000000005" y="350.4" width="3" height="10.5" fill="#74337f"/><path d="M405.8 354.9 L407.90000000000003 357.2 L410.0 354.9 M407.90000000000003 357.2 L407.90000000000003 359.9" stroke="#e3a3c6" stroke-width="0.9" fill="none"/><rect x="404.6" y="361.4" width="3" height="13.5" fill="#1f7fa3"/><rect x="408.20000000000005" y="361.4" width="3" height="13.5" fill="#1f7fa3"/><line x1="405.90000000000003" y1="374.9" x2="405.90000000000003" y2="386.9" stroke="#2f4050" stroke-width="0.9"/><line x1="409.90000000000003" y1="374.9" x2="409.90000000000003" y2="386.9" stroke="#2f4050" stroke-width="0.9"/>
<line x1="450.40000000000003" y1="363.5" x2="450.40000000000003" y2="372.6" stroke="#2e4b7d" stroke-width="0.8"/><rect x="444.8" y="372.6" width="3" height="10.5" fill="#74337f"/><rect x="448.40000000000003" y="372.6" width="3" height="10.5" fill="#74337f"/><path d="M446.0 377.1 L448.1 379.40000000000003 L450.2 377.1 M448.1 379.40000000000003 L448.1 382.1" stroke="#e3a3c6" stroke-width="0.9" fill="none"/><rect x="444.8" y="383.6" width="3" height="13.5" fill="#1f7fa3"/><rect x="448.40000000000003" y="383.6" width="3" height="13.5" fill="#1f7fa3"/><line x1="446.1" y1="397.1" x2="446.1" y2="409.1" stroke="#2f4050" stroke-width="0.9"/><line x1="450.1" y1="397.1" x2="450.1" y2="409.1" stroke="#2f4050" stroke-width="0.9"/>
<line x1="451.5" y1="378.9" x2="455.5" y2="378.9" stroke="#333" stroke-width="0.6"/><line x1="451.5" y1="391.5" x2="455.5" y2="391.5" stroke="#333" stroke-width="0.6"/>
<text x="455.3" y="381.4" font-size="7.2" fill="#262626" text-anchor="start" textLength="16.7" lengthAdjust="spacingAndGlyphs" stroke="#262626" stroke-width="0.22">MHC</text>
<text x="455.3" y="394.1" font-size="7.2" fill="#262626" text-anchor="start" textLength="14.7" lengthAdjust="spacingAndGlyphs" stroke="#262626" stroke-width="0.22">TCR</text>
<text x="347.5" y="436.2" font-size="7.2" fill="#262626" text-anchor="start" textLength="37.6" lengthAdjust="spacingAndGlyphs" stroke="#262626" stroke-width="0.22">CD8 T cells</text>
<path d="M490.6 431.1 C515 439 545 438 566 431.1 C582 425 595 417 605.5 411.8" fill="none" stroke="url(#actg)" stroke-width="1.3"/>
<path d="M602.5 409 L610.3 409.2 L606.5 415.5 Z" fill="#24332b"/>
<text x="480.3" y="416.6" font-size="7.2" fill="#262626" text-anchor="start" textLength="109" lengthAdjust="spacingAndGlyphs" stroke="#262626" stroke-width="0.22">Activation of cytotoxic CD8 T cells</text>
<circle cx="613.8" cy="365.4" r="34.8" fill="#a9d3b5" stroke="#508c60" stroke-width="0.9"/>
<circle cx="617" cy="369.5" r="21.4" fill="#6eb58c" stroke="#508c60" stroke-width="0.9"/>
<path d="M611.0 188.5 C612.3 188.4 613.6 188.6 615.2 189.1 C616.8 189.6 618.4 191.1 620.4 191.7 C622.4 192.2 625.1 192.7 627.0 192.4 C628.9 192.1 630.3 189.5 631.5 189.8 C632.7 190.1 632.9 193.1 634.1 194.3 C635.3 195.5 637.1 196.2 638.7 197.0 C640.3 197.8 642.4 198.0 643.9 198.9 C645.4 199.8 646.7 201.0 647.8 202.2 C648.9 203.4 649.3 205.2 650.4 206.1 C651.5 207.0 653.0 207.1 654.3 207.4 C655.6 207.7 657.3 207.3 658.2 208.0 C659.1 208.7 659.5 210.1 659.5 211.3 C659.5 212.5 658.3 213.5 658.2 215.2 C658.1 216.9 658.6 219.3 658.9 221.7 C659.2 224.1 660.0 226.8 660.2 229.5 C660.4 232.2 660.3 235.3 660.2 237.8 C660.1 240.3 659.2 242.1 659.5 244.3 C659.8 246.5 661.8 249.2 662.2 250.9 C662.7 252.7 662.9 253.9 662.2 254.8 C661.5 255.7 659.6 255.4 658.2 256.1 C656.8 256.9 654.8 258.0 653.7 259.3 C652.6 260.6 651.6 262.6 651.7 263.9 C651.8 265.2 654.3 266.4 654.3 267.2 C654.3 268.0 652.9 268.5 651.7 268.5 C650.5 268.5 648.5 266.9 647.2 267.2 C645.9 267.5 645.1 269.0 643.9 270.4 C642.7 271.8 641.0 274.1 640.0 275.6 C639.0 277.1 638.6 278.3 638.0 279.5 C637.4 280.7 637.0 282.4 636.1 282.8 C635.2 283.2 633.9 282.8 632.8 282.2 C631.7 281.6 631.0 279.8 629.6 279.5 C628.2 279.2 626.3 280.0 624.3 280.2 C622.3 280.4 619.6 280.8 617.8 280.8 C616.0 280.8 615.5 280.4 613.7 280.2 C611.9 280.0 609.4 279.8 607.2 279.5 C605.0 279.2 602.8 278.7 600.6 278.2 C598.4 277.7 595.7 276.8 594.1 276.3 C592.5 275.8 592.0 275.0 590.9 275.0 C589.8 275.0 588.9 276.1 587.6 276.3 C586.3 276.5 584.2 276.9 583.0 276.3 C581.8 275.8 581.0 274.3 580.4 273.0 C579.8 271.7 579.9 269.8 579.1 268.5 C578.4 267.2 576.9 266.6 575.9 265.2 C574.9 263.8 574.2 261.7 573.3 260.0 C572.4 258.3 571.8 255.9 570.6 254.8 C569.4 253.7 567.0 254.2 566.1 253.5 C565.2 252.8 565.0 251.8 565.4 250.9 C565.8 250.0 568.1 249.6 568.7 248.3 C569.4 247.0 569.4 245.0 569.3 243.0 C569.2 241.0 568.2 238.7 568.0 236.5 C567.8 234.3 567.9 231.2 568.0 230.0 C568.1 228.8 568.4 230.4 568.7 229.5 C569.0 228.6 569.9 225.8 570.0 224.3 C570.1 222.8 568.9 221.7 569.3 220.4 C569.7 219.1 571.5 218.0 572.6 216.5 C573.7 215.0 574.9 213.0 575.9 211.3 C576.9 209.6 577.4 207.5 578.5 206.1 C579.6 204.7 581.4 204.1 582.4 202.8 C583.4 201.5 584.0 199.8 584.3 198.3 C584.6 196.8 583.8 194.6 584.3 193.7 C584.8 192.8 586.2 192.4 587.0 192.8 C587.8 193.2 588.1 195.5 588.9 196.3 C589.6 197.1 590.6 197.9 591.5 197.6 C592.4 197.3 593.0 195.2 594.1 194.3 C595.2 193.4 596.5 192.7 598.0 192.4 C599.5 192.1 601.7 192.8 603.2 192.4 C604.7 192.0 605.9 190.5 607.2 189.8 C608.5 189.2 609.7 188.6 611.0 188.5Z" fill="#f4a2a5" stroke="#c97b7e" stroke-width="0.7"/>
<path d="M613.7 208.0 C616.4 206.9 618.6 207.2 621.0 207.5 C623.4 207.8 625.9 208.7 628.0 209.5 C630.1 210.3 631.9 211.2 633.5 212.6 C635.1 214.0 636.3 215.9 637.5 218.0 C638.7 220.1 639.9 222.7 640.5 225.0 C641.1 227.3 641.7 229.4 641.3 232.0 C640.9 234.6 639.5 238.2 638.0 240.4 C636.5 242.7 634.5 244.2 632.0 245.5 C629.5 246.8 626.0 248.0 623.0 248.3 C620.0 248.7 616.6 248.5 613.7 247.6 C610.8 246.7 608.0 245.3 605.8 243.0 C603.6 240.7 601.5 237.2 600.6 233.9 C599.7 230.6 599.9 226.3 600.6 223.0 C601.3 219.7 602.8 216.5 605.0 214.0 C607.2 211.5 611.0 209.1 613.7 208.0Z" fill="#d26b72" stroke="#c56068" stroke-width="0.5"/>
<circle cx="587" cy="207" r="0.9" fill="#d88085"/>
<circle cx="594" cy="222" r="0.9" fill="#d88085"/>
<circle cx="586" cy="226" r="0.9" fill="#d88085"/>
<circle cx="578" cy="232" r="0.9" fill="#d88085"/>
<circle cx="591" cy="240" r="0.9" fill="#d88085"/>
<circle cx="584" cy="248" r="0.9" fill="#d88085"/>
<circle cx="600" cy="256" r="0.9" fill="#d88085"/>
<circle cx="594" cy="263" r="0.9" fill="#d88085"/>
<circle cx="610" cy="262" r="0.9" fill="#d88085"/>
<circle cx="620" cy="258" r="0.9" fill="#d88085"/>
<circle cx="632" cy="255" r="0.9" fill="#d88085"/>
<circle cx="640" cy="262" r="0.9" fill="#d88085"/>
<circle cx="650" cy="246" r="0.9" fill="#d88085"/>
<circle cx="651" cy="230" r="0.9" fill="#d88085"/>
<circle cx="646" cy="212" r="0.9" fill="#d88085"/>
<circle cx="633" cy="203" r="0.9" fill="#d88085"/>
<circle cx="620" cy="199" r="0.9" fill="#d88085"/>
<circle cx="605" cy="201" r="0.9" fill="#d88085"/>
<circle cx="588" cy="265" r="0.9" fill="#d88085"/>
<circle cx="606" cy="271" r="0.9" fill="#d88085"/>
<circle cx="575" cy="246" r="0.9" fill="#d88085"/>
<circle cx="625" cy="270" r="0.9" fill="#d88085"/>
<text x="627.4" y="193.2" font-size="7.2" fill="#262626" text-anchor="start" textLength="33.2" lengthAdjust="spacingAndGlyphs" stroke="#262626" stroke-width="0.22">Tumor cell</text>
<line x1="614" y1="187" x2="614" y2="169" stroke="#1e1e1e" stroke-width="1.2"/>
<path d="M610.3 170 L617.8 170 L614 163 Z" fill="#1e1e1e"/>
<line x1="618.7" y1="277" x2="618.7" y2="290" stroke="#2e4b7d" stroke-width="0.8"/>
<rect x="612.4" y="289.3" width="3.8" height="14" fill="#7b3a8c"/><rect x="617.1" y="289.3" width="3.8" height="14" fill="#7b3a8c"/>
<circle cx="616.6" cy="300.9" r="1.6" fill="#e9a6c0" stroke="#7b3a8c" stroke-width="0.5"/>
<rect x="612.4" y="303.8" width="3.8" height="17" fill="#1f7fa3"/><rect x="617.1" y="303.8" width="3.8" height="17" fill="#1f7fa3"/>
<line x1="614.3" y1="321" x2="614.3" y2="336.5" stroke="#2f4050" stroke-width="0.9"/><line x1="618.7" y1="321" x2="618.7" y2="336.5" stroke="#2f4050" stroke-width="0.9"/>
<path d="M568.5 351.5 C567.8 350.5 565.6 347.9 564.3 345.4 C563.0 342.9 561.7 339.9 560.5 336.7 C559.3 333.4 558.0 329.7 557.3 325.9 C556.5 322.1 556.1 317.5 556.0 314.0 C555.9 310.5 556.1 307.8 556.5 305.0 C556.9 302.2 557.4 299.9 558.3 297.0 C559.2 294.1 560.5 290.6 562.0 287.5 C563.5 284.4 566.5 279.9 567.4 278.4" fill="none" stroke="url(#granz)" stroke-width="1.4"/>
<path d="M572.2 272.2 L565 276 L570.2 280.1 Z" fill="#3f1622"/>
<path d="M663.5 355.5 C664.1 354.5 666.1 351.7 667.4 349.4 C668.7 347.1 670.0 344.4 671.3 341.5 C672.6 338.6 674.3 335.3 675.2 331.7 C676.1 328.1 676.5 323.9 676.7 320.0 C676.9 316.1 676.9 311.3 676.5 308.0 C676.1 304.7 675.5 303.2 674.4 300.0 C673.3 296.8 671.5 292.2 670.0 289.0 C668.5 285.8 666.2 282.3 665.5 281.0" fill="none" stroke="url(#ifng)" stroke-width="1.4"/>
<path d="M661.3 275.1 L662 282.4 L668.3 278.7 Z" fill="#173c58"/>
<circle cx="559.5" cy="273.3" r="1.6" fill="#b8a070"/>
<circle cx="548.4" cy="282.7" r="1.5" fill="#6e5a80"/>
<circle cx="556" cy="286.2" r="1.4" fill="#b0a0b8"/>
<circle cx="568.2" cy="286.5" r="1.4" fill="#e8d8b0"/>
<circle cx="569.5" cy="293.4" r="1.6" fill="#b8b0c0"/>
<circle cx="549.2" cy="296.6" r="1.6" fill="#6b4f8f"/>
<circle cx="545.4" cy="310" r="1.5" fill="#e0b060"/>
<circle cx="549.1" cy="318.8" r="1.5" fill="#c0b0d8"/>
<circle cx="561.3" cy="318.8" r="1.6" fill="#c8a040"/>
<circle cx="548.9" cy="331.8" r="1.8" fill="#6a5a88"/>
<circle cx="562.4" cy="331.3" r="1.4" fill="#c8c0d8"/>
<circle cx="559.1" cy="342.7" r="1.4" fill="#e0dcc8"/>
<circle cx="568.2" cy="342.2" r="1.4" fill="#c0b8c8"/>
<circle cx="563" cy="353" r="1.7" fill="#6a5088"/>
<circle cx="573.3" cy="359.8" r="1.5" fill="#c8c0a8"/>
<circle cx="662.6" cy="269.4" r="2.1" fill="#2e7d46"/>
<circle cx="654" cy="279.5" r="2.1" fill="#2e7d46"/>
<circle cx="675" cy="286.2" r="2.1" fill="#2e7d46"/>
<circle cx="659.9" cy="291.6" r="1.4" fill="#b8c8bc"/>
<circle cx="672" cy="299.6" r="1.3" fill="#b9d3bf"/>
<circle cx="679.6" cy="305.2" r="1.9" fill="#2e7d46"/>
<circle cx="668.7" cy="311.7" r="1.9" fill="#2e7d46"/>
<circle cx="688.3" cy="312.2" r="1.3" fill="#a8c0b0"/>
<circle cx="668.4" cy="325.9" r="2.0" fill="#2e7d46"/>
<circle cx="684.5" cy="331.3" r="1.3" fill="#8aa898"/>
<circle cx="665.9" cy="338.6" r="1.3" fill="#3a7050"/>
<circle cx="662.7" cy="349.2" r="1.3" fill="#b8d0c0"/>
<circle cx="668.4" cy="354.2" r="2.0" fill="#2e7d46"/>
<circle cx="658.8" cy="359.9" r="1.3" fill="#a0b0a8"/>
<text x="560.7" y="308.3" font-size="7.2" fill="#262626" text-anchor="start" textLength="40.2" lengthAdjust="spacingAndGlyphs" stroke="#262626" stroke-width="0.22">Granzyme B</text>
<text x="560.7" y="316" font-size="7.2" fill="#262626" text-anchor="start" textLength="25" lengthAdjust="spacingAndGlyphs" stroke="#262626" stroke-width="0.22">Perforin</text>
<text x="623" y="312.2" font-size="7.2" fill="#262626" text-anchor="start" textLength="37.4" lengthAdjust="spacingAndGlyphs" stroke="#262626" stroke-width="0.22">Interferon-γ</text>
<path d="M569.1 112.2 C569.4 109.7 571.2 105.1 573.0 103.0 C574.8 100.9 577.0 100.2 579.6 99.8 C582.2 99.4 586.3 101.0 588.7 100.4 C591.1 99.9 592.8 98.9 593.9 96.5 C595.0 94.1 594.3 88.4 595.2 86.1 C596.1 83.8 597.4 83.4 599.1 82.8 C600.8 82.2 603.7 81.7 605.6 82.2 C607.5 82.8 609.6 84.1 610.8 86.1 C612.0 88.0 611.9 92.2 612.8 93.9 C613.7 95.6 614.9 96.5 616.0 96.0 C617.1 95.5 618.6 92.6 619.6 90.9 C620.6 89.2 621.1 86.2 622.2 85.6 C623.3 84.9 625.1 85.7 626.1 87.0 C627.1 88.3 627.1 91.5 628.0 93.5 C628.9 95.5 630.1 98.1 631.3 99.3 C632.5 100.5 633.9 101.1 635.2 100.6 C636.5 100.1 637.6 97.3 639.1 96.1 C640.6 94.9 642.6 93.7 644.3 93.5 C646.0 93.3 648.1 93.8 649.5 94.8 C650.9 95.8 652.3 97.6 652.8 99.3 C653.2 101.0 653.0 103.7 652.2 105.2 C651.4 106.7 649.7 107.8 648.2 108.5 C646.7 109.2 644.1 108.6 643.0 109.5 C641.9 110.4 641.8 111.9 641.5 114.0 C641.2 116.1 641.6 119.8 641.4 122.1 C641.1 124.4 641.0 126.1 640.0 127.9 C639.0 129.7 637.6 131.5 635.7 132.9 C633.8 134.3 631.0 135.5 628.6 136.4 C626.2 137.3 624.0 138.1 621.4 138.6 C618.8 139.1 615.1 138.5 612.9 139.3 C610.6 140.1 609.1 141.7 607.9 143.6 C606.7 145.5 606.8 149.0 605.7 150.7 C604.6 152.4 603.3 153.2 601.4 153.6 C599.5 154.0 596.3 153.8 594.3 152.9 C592.3 152.0 590.2 149.9 589.3 147.9 C588.3 145.9 588.1 142.7 588.6 140.7 C589.1 138.7 590.7 137.1 592.1 135.7 C593.5 134.3 595.9 133.4 597.1 132.1 C598.3 130.8 599.3 129.6 599.3 127.9 C599.3 126.2 598.2 123.4 597.1 122.1 C596.0 120.8 594.8 120.5 592.9 120.0 C591.0 119.5 588.3 119.4 585.7 119.3 C583.1 119.2 579.5 119.5 577.1 119.3 C574.7 119.1 572.7 119.1 571.4 117.9 C570.1 116.7 568.8 114.7 569.1 112.2Z" fill="#f4a6a7" stroke="#a95a5e" stroke-width="0.95"/>
<path d="M580.9 73.0 C582.0 70.8 583.9 67.9 586.1 66.5 C588.3 65.1 591.5 64.5 593.9 64.6 C596.3 64.7 599.0 65.8 600.4 67.2 C601.8 68.6 602.6 70.9 602.4 73.0 C602.2 75.1 600.7 77.6 599.1 79.6 C597.5 81.6 594.8 83.4 592.6 84.8 C590.4 86.2 588.0 87.9 586.1 88.0 C584.2 88.1 582.6 86.8 581.5 85.4 C580.4 84.0 579.7 81.7 579.6 79.6 C579.5 77.5 579.8 75.2 580.9 73.0Z" fill="#f4a6a7" stroke="#a95a5e" stroke-width="0.95"/>
<path d="M612.2 73.0 C612.8 70.7 614.4 68.4 616.1 67.2 C617.8 66.0 620.7 65.4 622.6 65.9 C624.5 66.4 626.9 68.3 627.8 70.4 C628.7 72.5 628.9 76.2 627.8 78.3 C626.7 80.4 623.2 81.8 621.3 82.8 C619.3 83.8 617.5 84.4 616.1 84.1 C614.7 83.8 613.4 82.8 612.8 80.9 C612.1 79.1 611.7 75.3 612.2 73.0Z" fill="#f4a6a7" stroke="#a95a5e" stroke-width="0.95"/>
<ellipse cx="637.8" cy="85" rx="4.8" ry="4.3" transform="rotate(0 637.8 85)" fill="#f4a6a7" stroke="#a95a5e" stroke-width="0.95"/>
<ellipse cx="651.9" cy="91.1" rx="2.1" ry="1.9" transform="rotate(0 651.9 91.1)" fill="#f4a6a7" stroke="#a95a5e" stroke-width="0.95"/>
<ellipse cx="662.3" cy="96.7" rx="5.2" ry="3.4" transform="rotate(20 662.3 96.7)" fill="#f4a6a7" stroke="#a95a5e" stroke-width="0.95"/>
<ellipse cx="648.2" cy="117.6" rx="5" ry="6.4" transform="rotate(15 648.2 117.6)" fill="#f4a6a7" stroke="#a95a5e" stroke-width="0.95"/>
<ellipse cx="570.1" cy="93.2" rx="6.2" ry="8" transform="rotate(35 570.1 93.2)" fill="#f4a6a7" stroke="#a95a5e" stroke-width="0.95"/>
<ellipse cx="568" cy="122" rx="5.3" ry="2.8" transform="rotate(20 568 122)" fill="#f4a6a7" stroke="#a95a5e" stroke-width="0.95"/>
<ellipse cx="581.5" cy="133" rx="11" ry="7.8" transform="rotate(-40 581.5 133)" fill="#f4a6a7" stroke="#a95a5e" stroke-width="0.95"/>
<ellipse cx="638.2" cy="141.7" rx="6.8" ry="4.4" transform="rotate(-25 638.2 141.7)" fill="#f4a6a7" stroke="#a95a5e" stroke-width="0.95"/>
<ellipse cx="617.8" cy="154" rx="11" ry="5.6" transform="rotate(-20 617.8 154)" fill="#f4a6a7" stroke="#a95a5e" stroke-width="0.95"/>
<ellipse cx="615.7" cy="143.9" rx="3.5" ry="2.2" transform="rotate(0 615.7 143.9)" fill="#f4a6a7" stroke="#a95a5e" stroke-width="0.95"/>
<path d="M610.4 102.6 C612.1 101.7 615.7 102.2 618.3 102.6 C620.9 103.0 624.0 103.9 626.1 105.2 C628.2 106.5 630.1 108.6 630.6 110.4 C631.1 112.2 630.7 114.9 629.3 116.3 C627.9 117.7 624.5 118.2 622.2 118.9 C619.9 119.7 618.0 120.0 615.6 120.8 C613.2 121.6 609.6 123.6 607.8 123.5 C606.0 123.4 605.0 121.7 604.6 120.2 C604.2 118.7 604.7 116.4 605.2 114.3 C605.7 112.2 606.9 109.8 607.8 107.8 C608.7 105.8 608.6 103.5 610.4 102.6Z" fill="#d6747a"/>
<ellipse cx="598.8" cy="106.8" rx="4.9" ry="6.6" fill="#d6747a"/>
<circle cx="616.4" cy="126.4" r="3.4" fill="#d6747a" stroke="#c25e64" stroke-width="0.5"/>
<circle cx="596" cy="72" r="0.9" fill="#d7767c"/>
<circle cx="584" cy="79" r="0.9" fill="#d7767c"/>
<circle cx="623" cy="75" r="0.9" fill="#d7767c"/>
<circle cx="571" cy="96" r="0.9" fill="#d7767c"/>
<circle cx="599" cy="87" r="0.9" fill="#d7767c"/>
<circle cx="611" cy="92" r="0.9" fill="#d7767c"/>
<circle cx="645" cy="101" r="0.9" fill="#d7767c"/>
<circle cx="636" cy="118" r="0.9" fill="#d7767c"/>
<circle cx="627" cy="130" r="0.9" fill="#d7767c"/>
<circle cx="583" cy="133" r="0.9" fill="#d7767c"/>
<circle cx="618" cy="154" r="0.9" fill="#d7767c"/>
<circle cx="637" cy="142" r="0.9" fill="#d7767c"/>
<circle cx="648" cy="118" r="0.9" fill="#d7767c"/>
<circle cx="606" cy="135" r="0.9" fill="#d7767c"/>
<circle cx="578" cy="110" r="0.9" fill="#d7767c"/>
<circle cx="590" cy="111" r="0.9" fill="#d7767c"/>
<text x="538.7" y="150.2" font-size="7.2" fill="#262626" text-anchor="start" textLength="30.4" lengthAdjust="spacingAndGlyphs" stroke="#262626" stroke-width="0.22">Apoptotic</text>
<text x="538.3" y="157.7" font-size="7.2" fill="#262626" text-anchor="start" textLength="31.5" lengthAdjust="spacingAndGlyphs" stroke="#262626" stroke-width="0.22">tumor cell</text>
<path d="M556.3 95.5 C553.6 94.7 546.0 91.7 540.0 90.5 C534.0 89.3 526.2 88.7 520.0 88.6 C513.8 88.5 508.6 89.0 502.9 89.7 C497.2 90.4 490.8 91.4 485.7 92.6 C480.6 93.8 476.8 95.2 472.0 97.1 C467.2 99.0 461.5 101.7 457.1 104.0 C452.7 106.3 448.2 109.3 445.7 110.9 C443.1 112.5 442.4 113.3 441.8 113.8" fill="none" stroke="url(#epig)" stroke-width="1.45"/>
<path d="M438.2 117.8 L441.2 110.6 L445.6 115.9 Z" fill="#111"/>
<text x="477.5" y="102.9" font-size="7.2" fill="#262626" text-anchor="start" textLength="59.6" lengthAdjust="spacingAndGlyphs" stroke="#262626" stroke-width="0.22">Epitope expansion</text>
</svg></body></html>
